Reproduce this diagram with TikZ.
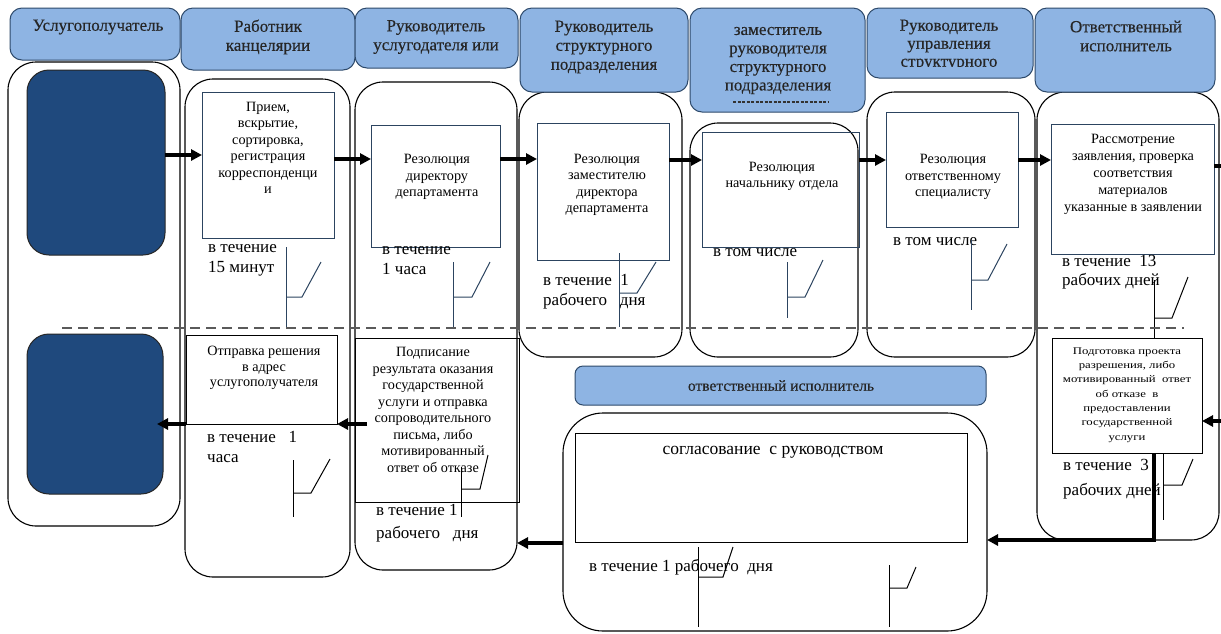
\documentclass[tikz,border=0pt]{standalone}
\usepackage{fontspec}
\setmainfont{Liberation Serif}
\newfontfamily\headfont[FakeBold=0.35]{Liberation Serif}
\newfontfamily\widefont[FakeStretch=1.25]{Liberation Serif}
\usetikzlibrary{arrows.meta,calc}
\definecolor{hdrfill}{HTML}{8EB4E3}
\definecolor{hdrline}{HTML}{2E4A6B}
\definecolor{navy}{HTML}{1F497D}
\definecolor{slate}{HTML}{2C4460}
\definecolor{dashgray}{HTML}{5A5A5A}
% box from its corners (x1,y1)-(x2,y2), y measured downwards
\newcommand\placebox[6]{\node[#6, inner sep=0pt, outer sep=0pt,
  minimum width={(#4)-(#2)}, minimum height={(#5)-(#3)}]
  (#1) at ({((#2)+(#4))/2},{((#3)+(#5))/2}) {};}
% time marker: stem x from y1 to y2, foot at yh out to xh, slant up to (xd,yd)
\newcommand\timemark[8]{\draw[#8] (#1,#2) -- (#1,#3);
  \draw[#8] (#1,#4) -- (#5,#4) -- (#6,#7);}
\begin{document}
\begin{tikzpicture}[x=1pt,y=-1pt,
  hdr/.style={draw=hdrline, fill=hdrfill, rounded corners=12pt, line width=1pt},
  lane/.style={draw=black, rounded corners=28pt, line width=1.1pt},
  darkbox/.style={draw=black!85, fill=navy, rounded corners=22pt, line width=1pt},
  toptask/.style={draw=slate, line width=1pt},
  bottask/.style={draw=black, line width=1pt},
  flow/.style={line width=3.5pt, -{Triangle[length=11pt,width=11pt]}},
  plain/.style={line width=3.5pt},
  markA/.style={draw=slate, line width=1pt},
  markB/.style={draw=black, line width=1pt},
  htxt/.style={font=\headfont\fontsize{17}{19}\selectfont, align=center, inner sep=0pt, text=black!85},
  itxt/.style={font=\fontsize{14.2}{16.5}\selectfont, align=center, inner sep=0pt},
  stxt/.style={font=\widefont\fontsize{10.2}{14.3}\selectfont, align=center, inner sep=0pt},
  ttxt/.style={font=\fontsize{17}{20}\selectfont, align=left, anchor=west, inner sep=0pt}
]
\fill[white] (0,0) rectangle (1221,633);
\useasboundingbox (0,0) rectangle (1221,633);

% ---- swimlane bodies ----
\placebox{lane1}{8}{62}{180}{526}{lane}
\placebox{lane2}{185}{79}{350}{577}{lane}
\placebox{lane3}{355}{82}{517}{570}{lane}
\placebox{lane4}{519}{92}{682}{357}{lane}
\placebox{lane5}{690}{123}{858}{357}{lane}
\placebox{lane6}{867}{92}{1035}{357}{lane}
\placebox{lane7}{1037}{92}{1219}{540}{lane}
\placebox{midlane}{563}{413}{987}{631}{lane, rounded corners=40pt}

% ---- lane headers ----
\placebox{h1}{10}{8}{180}{60}{hdr}
\placebox{h2}{181}{8}{355}{70}{hdr}
\placebox{h3}{355}{8}{518}{68}{hdr}
\placebox{h4}{520}{8}{688}{92}{hdr}
\placebox{h5}{690}{8}{865}{112}{hdr}
\placebox{h6}{867}{8}{1033}{78}{hdr}
\placebox{h7}{1035}{8}{1215}{92}{hdr}
\placebox{hmid}{575}{366}{986}{405}{hdr, rounded corners=8pt}

\node[htxt] (t1) at (98,27) {Услугополучатель};
\node[htxt] (t2) at (268,37) {Работник\\канцелярии};
\node[htxt] (t3) at (436,37) {Руководитель\\услугодателя или};
\node[htxt] (t4) at (604,47) {Руководитель\\структурного\\подразделения};
\node[htxt, font=\headfont\fontsize{17}{18.5}\selectfont] (t5) at (778,60.5) {заместитель\\руководителя\\структурного\\подразделения};
\draw[black!80, line width=1.2pt, dash pattern=on 3pt off 1.5pt] (733,102) -- (828,102);
\begin{scope}
  \clip (h6.north west) rectangle ([yshift=12pt]h6.south east);
  \node[htxt, font=\headfont\fontsize{17}{18}\selectfont] (t6) at (949,45) {Руководитель\\управления\\структурного};
\end{scope}
\node[htxt] (t7) at (1126,36) {Ответственный\\исполнитель};
\node[htxt, font=\headfont\fontsize{15.5}{17}\selectfont] (tmid) at (781,385.5) {ответственный исполнитель};

% ---- service receiver ----
\placebox{dk1}{27}{70}{165}{255}{darkbox}
\placebox{dk2}{27}{334}{163}{494}{darkbox}

% ---- upper row of tasks ----
\placebox{p2}{202}{92}{334}{238}{toptask}
\placebox{p3}{371}{125}{500}{247}{toptask}
\placebox{p4}{537}{123}{669}{260}{toptask}
\placebox{p5}{702}{132}{859}{247}{toptask}
\placebox{p6}{886}{112}{1018}{227}{toptask}
\placebox{p7}{1051}{124}{1214}{254}{toptask}

\node[itxt] (p2t) at (268,148) {Прием,\\вскрытие,\\сортировка,\\регистрация\\корреспонденци\\и};
\node[itxt] (p3t) at (437,177) {Резолюция\\директору\\департамента};
\node[itxt] (p4t) at (607,185) {Резолюция\\заместителю\\директора\\департамента};
\node[itxt] (p5t) at (782,176.5) {Резолюция\\начальнику отдела};
\node[itxt] (p6t) at (953,177) {Резолюция\\ответственному\\специалисту};
\node[itxt, font=\fontsize{14.2}{17}\selectfont] (p7t) at (1133,174) {Рассмотрение\\заявления, проверка\\соответствия\\материалов\\указанные в заявлении};

% ---- lower row of tasks ----
\placebox{q2}{186}{335}{337}{424}{bottask}
\placebox{q3}{355}{338}{519}{502}{bottask}
\placebox{q7}{1052}{338}{1202}{453}{bottask}
\placebox{qm}{575}{433}{967}{542}{bottask}

\node[itxt, font=\fontsize{14.2}{15.5}\selectfont] (q2t) at (264,368) {Отправка решения\\в адрес\\услугополучателя};
\node[itxt] (q3t) at (433,410) {Подписание\\результата оказания\\государственной\\услуги и отправка\\сопроводительного\\письма, либо\\мотивированный\\ответ об отказе};
\node[stxt] (q7t) at (1127,395) {Подготовка проекта\\разрешения, либо\\мотивированный~ ответ\\об отказе~ в\\предоставлении\\государственной\\услуги};
\node[itxt, font=\fontsize{17.5}{18}\selectfont] (qmt) at (773,452) {согласование~ с руководством};

% ---- time limits ----
\node[ttxt] (d2) at (208,260) {в течение\\15 минут};
\node[ttxt] (d3) at (382,261) {в течение\\1 часа};
\node[ttxt] (d4) at (543,292) {в течение~ 1\\рабочего~ ~дня};
\node[ttxt] (d5) at (713,253) {в том числе};
\node[ttxt] (d6) at (893,242) {в том числе};
\node[ttxt, font=\fontsize{17}{19}\selectfont] (d7) at (1062,272.5) {в течение~ 13\\рабочих дней};
\node[ttxt] (e2) at (207,447) {в течение~ ~1\\часа};
\node[ttxt, font=\fontsize{17}{23}\selectfont] (e3) at (376,523.5) {в течение 1\\рабочего~ ~дня};
\node[ttxt, font=\fontsize{17}{25}\selectfont] (e7) at (1063,479.5) {в течение~ 3\\рабочих дней};
\node[ttxt] (em) at (589,567) {в течение 1 рабочего~ дня};

% ---- time markers ----
\timemark{286}{247}{327}{297}{302}{321}{262}{markA}
\timemark{453}{262}{327}{297}{472}{490}{262}{markA}
\timemark{619}{253}{327}{293}{637}{656}{262}{markA}
\timemark{787}{262}{318}{297}{805}{823}{260}{markA}
\timemark{971}{240}{310}{280}{988}{1007}{244}{markA}
\timemark{1154}{280}{338}{318}{1172}{1188}{277}{markB}
\timemark{293}{460}{517}{493}{311}{330}{459}{markB}
\timemark{461}{467}{517}{489}{480}{488}{455}{markB}
\timemark{1163}{453}{520}{485}{1182}{1193}{459}{markB}
\timemark{698}{547}{627}{577}{723}{733}{547}{markB}
\timemark{889}{565}{627}{588}{907}{916}{567}{markB}

% ---- boundary between the two stages ----
\coordinate (sepL) at (62,328);
\coordinate (sepR) at (1184,328);
\draw[dashgray, line width=1.3pt, dash pattern=on 10pt off 6pt] (sepL) -- (sepR);

% ---- flow ----
\coordinate (r1) at (0,155);
\coordinate (r2) at (0,159);
\coordinate (r3) at (0,160);
\coordinate (r4) at (0,424);
\coordinate (r5) at (0,543);
\coordinate (outR) at (1221,166);
\coordinate (inR) at (1221,421);
\coordinate (down) at (1154,540);
\draw[flow] (dk1.east |- r1) -- (p2.west |- r1);
\draw[flow] (p2.east |- r2) -- (p3.west |- r2);
\draw[flow] (p3.east |- r2) -- (p4.west |- r2);
\draw[flow] (p4.east |- r3) -- (p5.west |- r3);
\draw[flow] (p5.east |- r3) -- (p6.west |- r3);
\draw[flow] (p6.east |- r3) -- (p7.west |- r3);
\draw[plain] (p7.east |- outR) -- (outR);
\draw[flow] (inR) -- (q7.east |- inR);
\draw[flow] (q7.south -| down) -- (down) -- (midlane.east |- down);
\draw[flow] (midlane.west |- r5) -- (lane3.east |- r5);
\draw[flow] ($(q3.west |- r4)+(12,0)$) -- (q2.east |- r4);
\draw[flow] (q2.west |- r4) -- ($(dk2.east |- r4)+(-6,0)$);
\end{tikzpicture}
\end{document}
